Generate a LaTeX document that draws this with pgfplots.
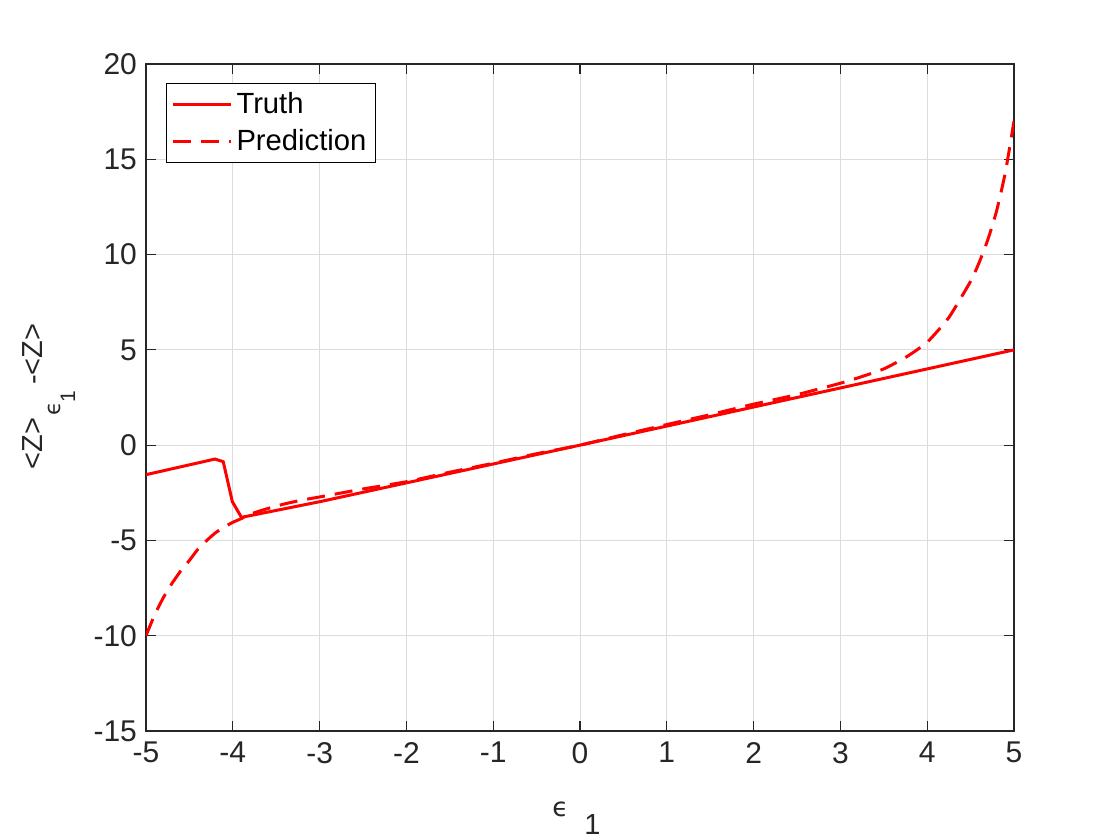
\documentclass[border=0pt]{standalone}
\usepackage{fontspec}
\setmainfont{Liberation Sans}
\newfontfamily\dejavu{DejaVu Sans}
\usepackage{pgfplots}
\pgfplotsset{compat=1.18}
\definecolor{axgray}{HTML}{262626}
\definecolor{gridgray}{HTML}{DCDCDC}
\begin{document}
\begin{tikzpicture}
\begin{axis}[
  scale only axis,
  width=434pt, height=333.5pt,
  xmin=-5, xmax=5, ymin=-15, ymax=20,
  xtick={-5,-4,...,5}, ytick={-15,-10,...,20},
  grid=major,
  major grid style={gridgray, line width=0.5pt},
  axis line style={axgray, line width=0.6pt},
  tick style={axgray, line width=0.6pt},
  tick align=inside,
  major tick length=5pt,
  xtick pos=both, ytick pos=both,
  /pgf/number format/assume math mode=true,
  ticklabel style={font=\fontsize{15}{16}\selectfont, text=axgray},
  xticklabel style={yshift=-2pt},
  yticklabel style={xshift=-1pt},
  xlabel={{\dejavu\fontsize{13}{13}\selectfont ϵ}\hspace{8pt}\raisebox{-9pt}{\fontsize{14.5}{16}\selectfont 1}},
  xlabel style={at={(axis description cs:0.496,-0.1289)}, anchor=base, text=axgray},
  ylabel={\fontsize{14.5}{16}\selectfont <Z>\hspace{1pt}\raisebox{-9pt}{\dejavu\fontsize{11}{11}\selectfont ϵ}\raisebox{-16.5pt}{\fontsize{10.5}{11}\selectfont 1}\hspace{3pt}-<Z>},
  ylabel style={at={(axis description cs:-0.1198,0.5015)}, anchor=base, text=axgray},
  legend style={at={(axis description cs:0,1)}, anchor=north west, xshift=10pt, yshift=-9.5pt,
    font=\fontsize{14.6}{16}\selectfont, draw=black, line width=0.5pt, inner sep=2.5pt,
    row sep=2.5pt, cells={anchor=west}},
  legend cell align=left,
  legend image code/.code={\draw[#1] (0pt,0pt) -- (29pt,0pt);},
]
\addplot[red, line width=1.5pt] coordinates {
(-5,-1.55) (-4.205,-0.73) (-4.11,-0.87) (-4.005,-2.97) (-3.9,-3.79)
(-3,-2.97) (-2,-1.98) (-1,-0.99) (0,0) (1,1) (2,2) (3,3) (4,4) (5,5)
};
\addlegendentry{Truth}
\addplot[red, line width=1.5pt, dash pattern=on 9pt off 5pt, smooth, tension=0.3] coordinates {
(-5,-10) (-4.9,-8.9) (-4.8,-8.0) (-4.7,-7.25) (-4.6,-6.6) (-4.5,-6.05)
(-4.4,-5.45) (-4.3,-5.0) (-4.2,-4.6) (-4.1,-4.3) (-4.0,-4.05) (-3.9,-3.85)
(-3.8,-3.62) (-3.6,-3.33) (-3.4,-3.08) (-3.2,-2.88) (-3.0,-2.72) (-2.5,-2.3)
(-2,-1.92) (-1.5,-1.42) (-1,-0.95) (-0.5,-0.45) (0,0) (0.5,0.55) (1,1.08)
(1.5,1.6) (2,2.15) (2.5,2.65) (3,3.25) (3.25,3.6) (3.5,4.0) (3.75,4.6)
(4,5.4) (4.25,6.7) (4.5,8.6) (4.6,9.6) (4.7,10.8) (4.8,12.3) (4.9,14.3) (5,17)
};
\addlegendentry{Prediction}
\end{axis}
\pgfresetboundingbox
\path[use as bounding box] (-73pt,-54.5pt) rectangle (487pt,365.5pt);
\end{tikzpicture}
\end{document}
